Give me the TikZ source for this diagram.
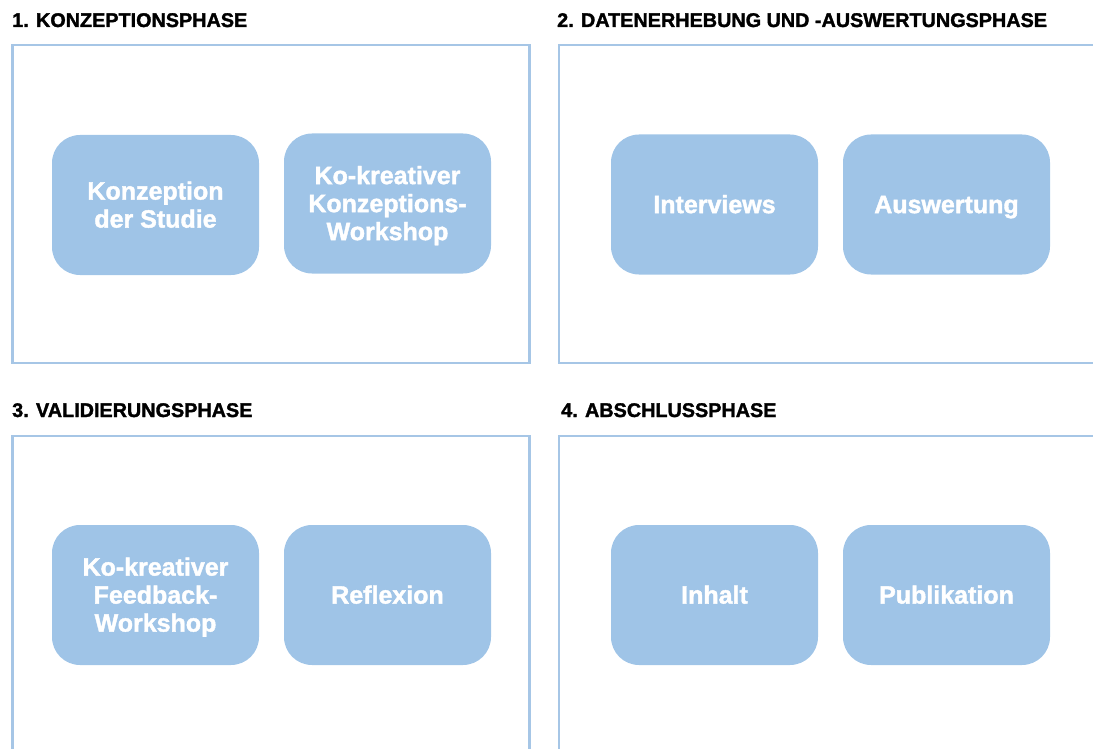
\documentclass[tikz,border=0pt]{standalone}
\usepackage{fontspec}
\setmainfont{Liberation Sans}[BoldFeatures={FakeBold=1.6}]
\definecolor{frameblue}{HTML}{A6C6E6}
\definecolor{boxblue}{HTML}{9FC4E7}
\newcommand\ctxt[1]{\vphantom{A}\smash{#1}}
\begin{document}
\begin{tikzpicture}[x=1pt,y=-1pt,
  panel/.style={draw=frameblue,line width=2.6pt},
  phase/.style={anchor=base west,inner sep=0pt,font=\fontsize{19.8}{22}\selectfont\bfseries},
  stepbox/.style={fill=boxblue,rounded corners=28pt,minimum width=207pt,minimum height=140pt,
    text=white,align=center,inner sep=0pt,font=\fontsize{25}{28}\selectfont\bfseries}]
\useasboundingbox (0,0) rectangle (1093,749);
\clip (0,0) rectangle (1093,749);
% panels
\draw[panel] (12.5,45) rectangle (529.5,363);
\draw[panel] (559,45) rectangle (1110,363);
\draw[panel] (12.5,436) rectangle (529.5,770);
\draw[panel] (559,436) rectangle (1110,770);
% headers
\node[phase] (h1) at (12,27) {1. KONZEPTIONSPHASE};
\node[phase] (h2) at (557,27) {2. DATENERHEBUNG UND -AUSWERTUNGSPHASE};
\node[phase] (h3) at (12,417) {3. VALIDIERUNGSPHASE};
\node[phase] (h4) at (561,417) {4. ABSCHLUSSPHASE};
% steps
\node[stepbox] (b1) at (155.5,205) {\ctxt{Konzeption}\\\ctxt{der Studie}};
\node[stepbox] (b2) at (387.5,203.5) {\ctxt{Ko-kreativer}\\\ctxt{Konzeptions-}\\\ctxt{Workshop}};
\node[stepbox] (b3) at (714.5,204.5) {\ctxt{Interviews}};
\node[stepbox] (b4) at (946.5,204.5) {\ctxt{Auswertung}};
\node[stepbox] (b5) at (155.5,595) {\ctxt{Ko-kreativer}\\\ctxt{Feedback-}\\\ctxt{Workshop}};
\node[stepbox] (b6) at (387.5,595) {\ctxt{Reflexion}};
\node[stepbox] (b7) at (714.5,595) {\ctxt{Inhalt}};
\node[stepbox] (b8) at (946.5,595) {\ctxt{Publikation}};
\end{tikzpicture}
\end{document}
